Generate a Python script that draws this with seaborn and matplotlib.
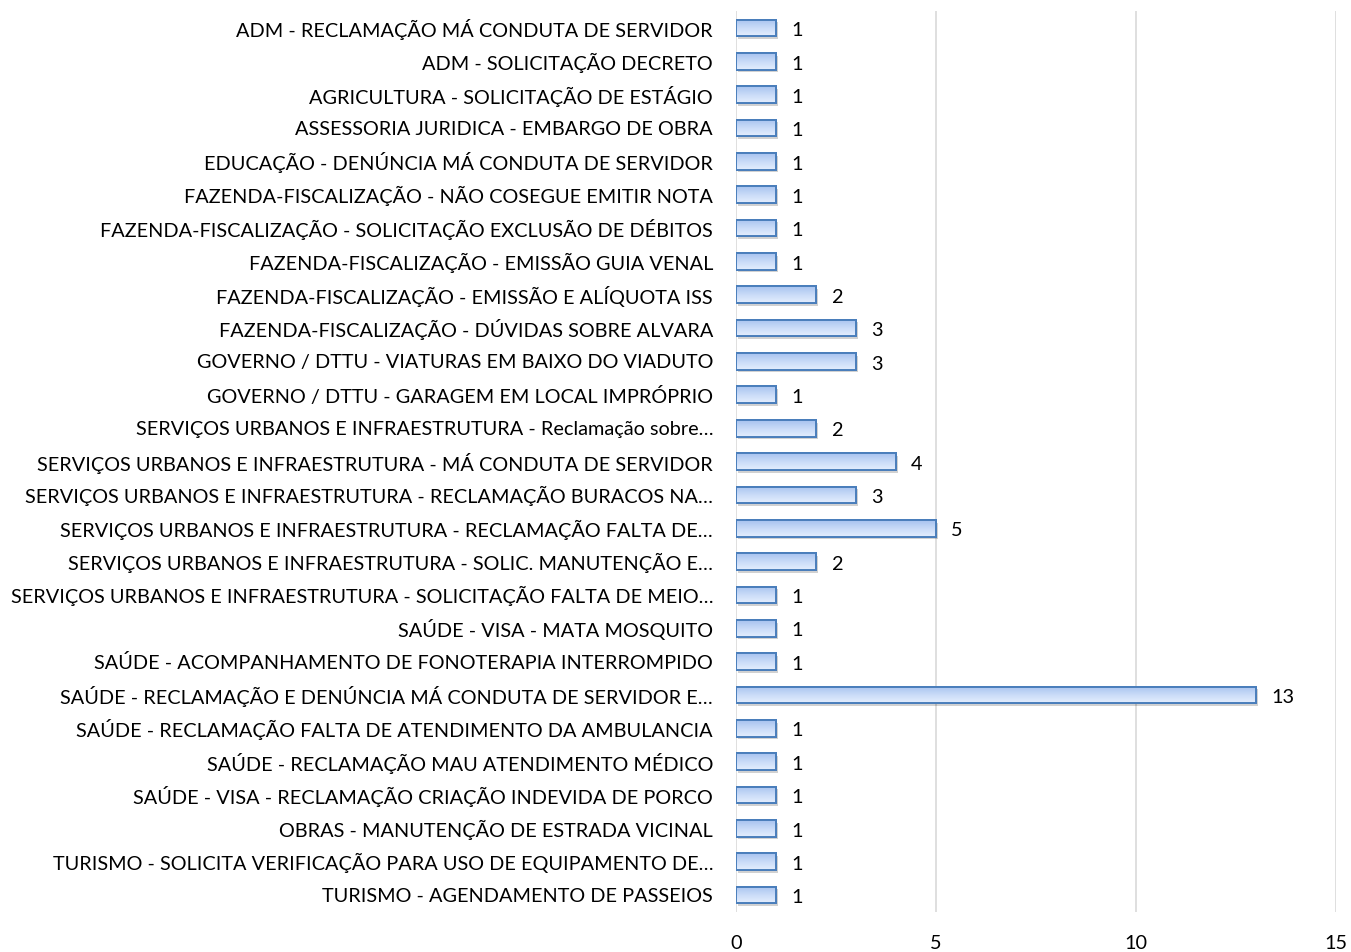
import numpy as np
import pandas as pd
import matplotlib
matplotlib.use("Agg")
import matplotlib.pyplot as plt
import seaborn as sns
from matplotlib.colors import LinearSegmentedColormap
from matplotlib.patches import Rectangle

categorias = [
    "ADM - RECLAMAÇÃO MÁ CONDUTA DE SERVIDOR",
    "ADM - SOLICITAÇÃO DECRETO",
    "AGRICULTURA - SOLICITAÇÃO DE ESTÁGIO",
    "ASSESSORIA JURIDICA - EMBARGO DE OBRA",
    "EDUCAÇÃO - DENÚNCIA MÁ CONDUTA DE SERVIDOR",
    "FAZENDA-FISCALIZAÇÃO - NÃO COSEGUE EMITIR NOTA",
    "FAZENDA-FISCALIZAÇÃO - SOLICITAÇÃO EXCLUSÃO DE DÉBITOS",
    "FAZENDA-FISCALIZAÇÃO - EMISSÃO GUIA VENAL",
    "FAZENDA-FISCALIZAÇÃO - EMISSÃO E ALÍQUOTA ISS",
    "FAZENDA-FISCALIZAÇÃO - DÚVIDAS SOBRE ALVARA",
    "GOVERNO / DTTU - VIATURAS EM BAIXO DO VIADUTO",
    "GOVERNO / DTTU - GARAGEM EM LOCAL IMPRÓPRIO",
    "SERVIÇOS URBANOS E INFRAESTRUTURA - Reclamação sobre…",
    "SERVIÇOS URBANOS E INFRAESTRUTURA - MÁ CONDUTA DE SERVIDOR",
    "SERVIÇOS URBANOS E INFRAESTRUTURA - RECLAMAÇÃO BURACOS NA…",
    "SERVIÇOS URBANOS E INFRAESTRUTURA - RECLAMAÇÃO FALTA DE…",
    "SERVIÇOS URBANOS E INFRAESTRUTURA - SOLIC. MANUTENÇÃO E…",
    "SERVIÇOS URBANOS E INFRAESTRUTURA - SOLICITAÇÃO FALTA DE MEIO…",
    "SAÚDE - VISA - MATA MOSQUITO",
    "SAÚDE - ACOMPANHAMENTO DE FONOTERAPIA INTERROMPIDO",
    "SAÚDE - RECLAMAÇÃO E DENÚNCIA MÁ CONDUTA DE SERVIDOR E…",
    "SAÚDE - RECLAMAÇÃO FALTA DE ATENDIMENTO DA AMBULANCIA",
    "SAÚDE - RECLAMAÇÃO MAU ATENDIMENTO MÉDICO",
    "SAÚDE - VISA - RECLAMAÇÃO CRIAÇÃO INDEVIDA DE PORCO",
    "OBRAS - MANUTENÇÃO DE ESTRADA VICINAL",
    "TURISMO - SOLICITA VERIFICAÇÃO PARA USO DE EQUIPAMENTO DE…",
    "TURISMO - AGENDAMENTO DE PASSEIOS",
]
quantidades = [1, 1, 1, 1, 1, 1, 1, 1, 2, 3, 3, 1, 2, 4, 3, 5, 2, 1, 1, 1, 13, 1, 1, 1, 1, 1, 1]
ticks_x = [0, 5, 10, 15]

df = pd.DataFrame({"categoria": categorias, "quantidade": quantidades})

sns.set_theme(style="white")
plt.rcParams["font.family"] = ["Lato", "DejaVu Sans"]

fig = plt.figure(figsize=(13.51, 9.52), dpi=100)
ax = fig.add_axes([0.5448, 0.0423, 0.4441, 0.9458])

sns.barplot(data=df, x="quantidade", y="categoria", order=categorias,
            orient="h", width=0.5, color="#b8cff5", edgecolor="#4a7ebb",
            linewidth=1.4, ax=ax, zorder=3)

# gradient fill and soft shadow for each bar
grad = LinearSegmentedColormap.from_list("g", ["#a7c2ef", "#c9dbf8", "#e4eefd"])
gimg = np.linspace(0, 1, 64).reshape(-1, 1)
for p in list(ax.patches):
    x0, y0 = p.get_x(), p.get_y()
    w, h = p.get_width(), p.get_height()
    shadow = Rectangle((x0 + 0.06, y0 + 0.08), w, h, facecolor="#000000",
                       alpha=0.18, edgecolor="none", zorder=2)
    ax.add_patch(shadow)
    im = ax.imshow(gimg, cmap=grad, aspect="auto",
                   extent=(x0, x0 + w, y0 + h, y0), zorder=3.5,
                   interpolation="bilinear")
    im.set_clip_path(p)
    edge = Rectangle((x0, y0), w, h, facecolor="none", edgecolor="#4a7ebb",
                     linewidth=1.4, zorder=4)
    ax.add_patch(edge)

for i, v in enumerate(quantidades):
    ax.text(v + 0.38, i + 0.08, str(v), va="center", ha="left",
            fontsize=14.3, color="#000000", zorder=5)

ax.set_xlim(0, 15)
ax.set_ylim(len(categorias) - 0.5, -0.5)
ax.set_xticks(ticks_x)
ax.set_xticklabels([str(t) for t in ticks_x], fontsize=14.3)
ax.tick_params(axis="x", length=0, pad=17)
ax.tick_params(axis="y", length=0, pad=16.5, labelsize=14.3)
for lbl in ax.get_yticklabels():
    lbl.set_color("#000000")
for lbl in ax.get_xticklabels():
    lbl.set_color("#000000")
ax.set_xlabel("")
ax.set_ylabel("")
for s in ax.spines.values():
    s.set_visible(False)
for t in ticks_x:
    ax.axvline(t, color="#d9d9d9", linewidth=1.2, zorder=1)

fig.savefig("out.png", dpi=100)
